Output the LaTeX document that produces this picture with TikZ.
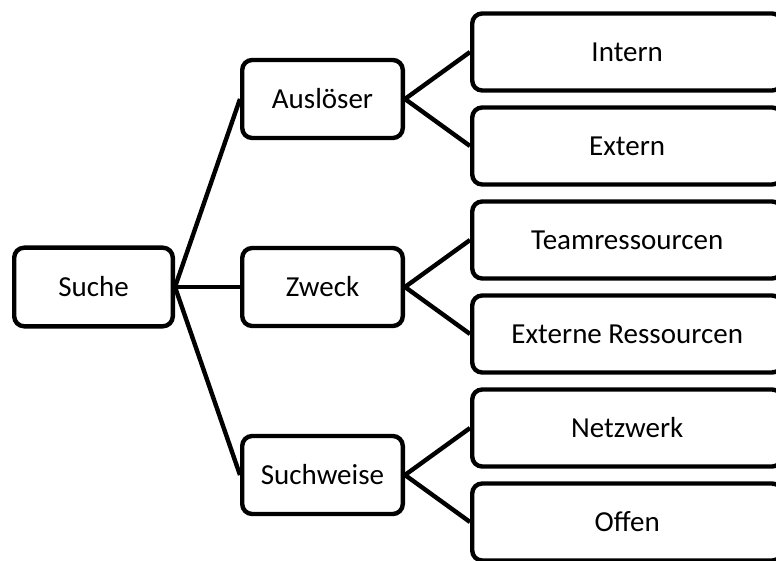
\documentclass[tikz,border=0pt]{standalone}
\usepackage{fontspec}
\setmainfont{Carlito}
\usepackage{tikz}
\usetikzlibrary{positioning, calc}

\begin{document}
\begin{tikzpicture}[
    root/.style={rectangle, draw=black, line width=2.2pt, rounded corners=5pt, fill=white, minimum width=79.3pt, minimum height=39.3pt, align=center, font=\fontsize{14.5}{17}\selectfont},
    branch/.style={root, minimum width=80.3pt, minimum height=39pt},
    leaf/.style={root, minimum width=155pt, minimum height=38.5pt},
    line/.style={line width=2.2pt},
    node distance=6.3pt
]
\useasboundingbox (0,0) rectangle (388pt,-280.5pt);
\clip (0,0) rectangle (388pt,-280.5pt);

% Leaves
\node[leaf, anchor=west] (intern) at (235pt,-26pt) {Intern};
\node[leaf, below=of intern] (extern) {Extern};
\node[leaf, below=of extern] (team) {Teamressourcen};
\node[leaf, below=of team] (externres) {Externe Ressourcen};
\node[leaf, below=of externres] (netzwerk) {Netzwerk};
\node[leaf, below=of netzwerk] (offen) {Offen};

% Branches and root
\path ($(intern.west)!0.5!(extern.west)$) node[branch, left=32.5pt] (ausloeser) {Auslöser};
\path ($(team.west)!0.5!(externres.west)$) node[branch, left=32.5pt] (zweck) {Zweck};
\path ($(netzwerk.west)!0.5!(offen.west)$) node[branch, left=32.5pt] (suchweise) {Suchweise};
\node[root, left=32.5pt of zweck] (suche) {Suche};

% Lines
\draw[line] (suche.east) -- (ausloeser.west);
\draw[line] (suche.east) -- (zweck.west);
\draw[line] (suche.east) -- (suchweise.west);
\draw[line] (ausloeser.east) -- (intern.west);
\draw[line] (ausloeser.east) -- (extern.west);
\draw[line] (zweck.east) -- (team.west);
\draw[line] (zweck.east) -- (externres.west);
\draw[line] (suchweise.east) -- (netzwerk.west);
\draw[line] (suchweise.east) -- (offen.west);

\end{tikzpicture}
\end{document}
